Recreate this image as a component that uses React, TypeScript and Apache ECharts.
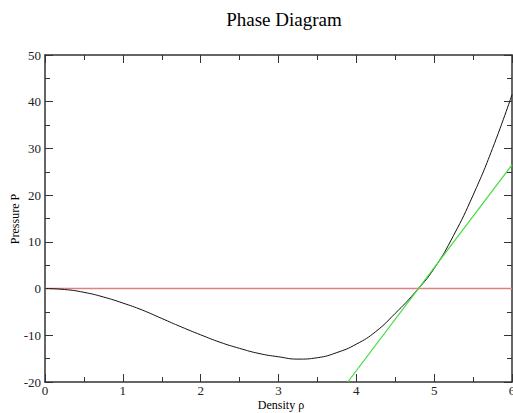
import React, { useEffect, useRef } from "react";
import * as echarts from "echarts";

const densityValues = [0, 0.25, 0.5, 0.75, 1, 1.25, 1.5, 1.75, 2, 2.25, 2.5, 2.75, 3, 3.25, 3.5, 3.75, 4, 4.25, 4.5, 4.75, 5, 5.25, 5.5, 5.75, 6];
const pressureValues = [0, -0.2, -0.8, -1.8, -3.1, -4.6, -6.4, -8.2, -9.9, -11.5, -12.8, -13.9, -14.6, -15.1, -14.8, -13.7, -11.9, -9.2, -5.3, -0.9, 4.3, 11.4, 20.0, 30.0, 41.5];
const tangentX = [3.89, 6];
const tangentY = [-20, 26.5];
const zeroX = [0, 6];
const zeroY = [0, 0];

const FONT = "'Liberation Serif', 'DejaVu Serif', serif";

export default function App() {
  const ref = useRef<HTMLDivElement>(null);
  useEffect(() => {
    document.body.style.margin = "0";
    document.body.style.overflow = "hidden";
    if (!ref.current) return;
    const chart = echarts.init(ref.current, undefined, { renderer: "svg" });
    const axisLine = { show: true, onZero: false, lineStyle: { color: "#333", width: 1.5 } };
    const axisTick = { show: true, inside: true, length: 8, lineStyle: { color: "#333", width: 1 } };
    const minorTick = { show: true, splitNumber: 2, length: 5, lineStyle: { color: "#333", width: 1 } };
    const label = { color: "#222", fontFamily: FONT, fontSize: 13 };
    chart.setOption({
      animation: false,
      backgroundColor: "#fff",
      title: {
        text: "Phase Diagram",
        left: 279,
        textAlign: "center",
        top: 5,
        textStyle: { fontFamily: FONT, fontSize: 19, fontWeight: "normal", color: "#000" },
      },
      graphic: [
        {
          type: "text", x: 281, y: 405,
          style: { text: "Density ρ", fontFamily: FONT, fontSize: 12, fill: "#000", textAlign: "center", textVerticalAlign: "middle" },
        },
        {
          type: "text", x: 15, y: 219, rotation: Math.PI / 2,
          style: { text: "Pressure P", fontFamily: FONT, fontSize: 12, fill: "#000", textAlign: "center", textVerticalAlign: "middle" },
        },
      ],
      grid: { left: 45, right: 1, top: 55, bottom: 31, containLabel: false, outerBoundsMode: "none" },
      xAxis: [
        {
          type: "value", min: 0, max: 6, interval: 1, position: "bottom",
          axisLine, axisTick, minorTick, splitLine: { show: false },
          axisLabel: { ...label, margin: 2 },
        },
        {
          type: "value", min: 0, max: 6, interval: 1, position: "top",
          axisLine, axisTick, minorTick, splitLine: { show: false },
          axisLabel: { show: false },
        },
      ],
      yAxis: [
        {
          type: "value", min: -20, max: 50, interval: 10, position: "left",
          axisLine, axisTick, minorTick, splitLine: { show: false },
          axisLabel: { ...label, margin: 4 },
        },
        {
          type: "value", min: -20, max: 50, interval: 10, position: "right",
          axisLine, axisTick, minorTick, splitLine: { show: false },
          axisLabel: { show: false },
        },
      ],
      series: [
        {
          type: "line",
          data: zeroX.map((x, i) => [x, zeroY[i]]),
          showSymbol: false,
          lineStyle: { color: "#dd8080", width: 1.5 },
          clip: true,
        },
        {
          type: "line",
          data: densityValues.map((x, i) => [x, pressureValues[i]]),
          smooth: true,
          showSymbol: false,
          lineStyle: { color: "#111", width: 1 },
          clip: true,
        },
        {
          type: "line",
          data: tangentX.map((x, i) => [x, tangentY[i]]),
          showSymbol: false,
          lineStyle: { color: "#3ddc3d", width: 1.2 },
          clip: true,
        },
      ],
    });
    return () => chart.dispose();
  }, []);
  return <div ref={ref} style={{ width: 513, height: 413 }} />;
}
